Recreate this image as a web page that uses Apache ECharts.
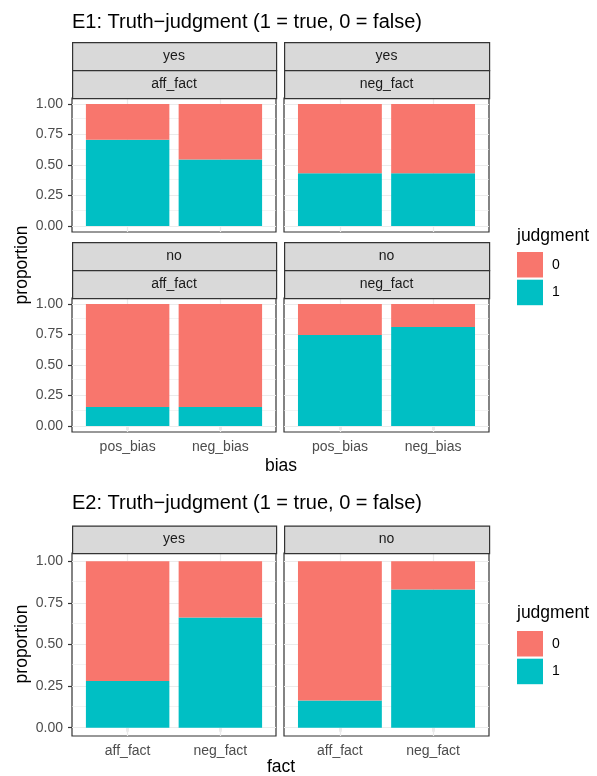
<!DOCTYPE html>
<html>
<head>
<meta charset="utf-8">
<script src="https://cdn.jsdelivr.net/npm/echarts@6/dist/echarts.min.js"></script>
<style>
  html, body { margin: 0; padding: 0; background: #fff; }
  #chart { width: 597px; height: 776px; }
</style>
</head>
<body>
<div id="chart"></div>
<script>
// ---- data ----
const e1Bias = ['pos_bias', 'neg_bias'];
const e1Verified = ['yes', 'yes', 'no', 'no'];
const e1Fact = ['aff_fact', 'neg_fact', 'aff_fact', 'neg_fact'];
// proportion of judgment = 1 (true) per panel, per bias level
const e1True = [[0.708, 0.545], [0.433, 0.433], [0.155, 0.155], [0.747, 0.812]];
// proportion of judgment = 0 (false)
const e1False = [[0.292, 0.455], [0.567, 0.567], [0.845, 0.845], [0.253, 0.188]];

const e2Fact = ['aff_fact', 'neg_fact'];
const e2Verified = ['yes', 'no'];
const e2True = [[0.281, 0.663], [0.163, 0.831]];
const e2False = [[0.719, 0.337], [0.837, 0.169]];

const yTicks = [0, 0.25, 0.5, 0.75, 1];
const yMinor = [0.125, 0.375, 0.625, 0.875];
const judgmentLevels = ['0', '1'];

// ---- styling ----
const FONT = '"Liberation Sans", Arial, Helvetica, sans-serif';
const COL0 = '#F8766D';
const COL1 = '#00BFC4';
const BORDER = '#333333';
const GRID = '#EBEBEB';
const STRIP = '#D9D9D9';

// panel rectangles [left, top, width, height]
const panels = [
  [72, 98, 204, 134], [284, 98, 205, 134],
  [72, 298, 204, 134], [284, 298, 205, 134],
  [72, 553, 204, 183], [284, 553, 205, 183]
];

const grids = [], xAxes = [], yAxes = [], series = [], graphics = [];

function gridLines(cats) {
  const d = [];
  yTicks.forEach(v => d.push({ yAxis: v, lineStyle: { color: GRID, width: 1.2, type: 'solid' } }));
  yMinor.forEach(v => d.push({ yAxis: v, lineStyle: { color: GRID, width: 0.6, type: 'solid' } }));
  cats.forEach((c, j) => d.push({ xAxis: j + 1, lineStyle: { color: GRID, width: 1.2, type: 'solid' } }));
  return { silent: true, symbol: 'none', z: 1, animation: false, label: { show: false }, data: d };
}

// rows are [proportion, position on the discrete axis]; proportion is listed first
// so that it is the dimension being stacked
function rows(cats, vals) {
  return cats.map((c, j) => [vals[j], j + 1]);
}

function addPanel(i, cats, ones, zeros, showX, showY) {
  const [l, t, w, h] = panels[i];
  grids.push({ left: l, top: t, width: w, height: h, show: true, backgroundColor: '#fff',
               borderColor: BORDER, borderWidth: 1.2, containLabel: false });
  xAxes.push({
    type: 'value', gridIndex: i, min: 0.4, max: 2.6,
    axisLine: { show: false }, splitLine: { show: false },
    axisTick: { show: showX, length: 4, lineStyle: { color: BORDER, width: 1.2 }, customValues: [1, 2] },
    axisLabel: { show: showX, margin: 8, color: '#4D4D4D', fontFamily: FONT, fontSize: 14,
                 customValues: [1, 2], formatter: v => cats[Math.round(v) - 1] }
  });
  yAxes.push({
    type: 'value', gridIndex: i, min: -0.05, max: 1.05,
    axisLine: { show: false }, splitLine: { show: false },
    axisTick: { show: showY, length: 4, lineStyle: { color: BORDER, width: 1.2 }, customValues: yTicks },
    axisLabel: { show: showY, margin: 9, color: '#4D4D4D', fontFamily: FONT, fontSize: 14,
                 customValues: yTicks, formatter: v => v.toFixed(2) }
  });
  series.push({
    name: '1', type: 'bar', xAxisIndex: i, yAxisIndex: i, stack: 's' + i, barWidth: '90%',
    itemStyle: { color: COL1 }, z: 3,
    encode: { x: 1, y: 0 },
    data: rows(cats, ones),
    markLine: gridLines(cats)
  });
  series.push({
    name: '0', type: 'bar', xAxisIndex: i, yAxisIndex: i, stack: 's' + i, barWidth: '90%',
    itemStyle: { color: COL0 }, z: 3,
    encode: { x: 1, y: 0 },
    data: rows(cats, zeros)
  });
}

function strip(l, t, w, h, text) {
  graphics.push({
    type: 'rect', left: l, top: t, z: 10,
    shape: { width: w, height: h },
    style: { fill: STRIP, stroke: BORDER, lineWidth: 1.2 }
  });
  graphics.push({
    type: 'text', x: l + w / 2, y: t + h / 2, z: 11,
    style: { text: text, fill: '#1A1A1A', font: '14px ' + FONT, textAlign: 'center', textVerticalAlign: 'middle' }
  });
}

function label(x, y, text, size, rotate) {
  graphics.push({
    type: 'text', x: x, y: y, rotation: rotate ? Math.PI / 2 : 0, z: 11,
    style: { text: text, fill: '#000', font: size + 'px ' + FONT, textAlign: 'center', textVerticalAlign: 'middle' }
  });
}

// E1: 2x2 facets, two strip rows each
for (let i = 0; i < 4; i++) {
  addPanel(i, e1Bias, e1True[i], e1False[i], i >= 2, i % 2 === 0);
  const [l, t, w] = panels[i];
  strip(l, t - 56, w, 28, e1Verified[i]);
  strip(l, t - 28, w, 28, e1Fact[i]);
}
// E2: 1x2 facets
for (let k = 0; k < 2; k++) {
  const i = 4 + k;
  addPanel(i, e2Fact, e2True[k], e2False[k], true, k === 0);
  const [l, t, w] = panels[i];
  strip(l, t - 27.5, w, 27.5, e2Verified[k]);
}

// axis titles
label(22, 265, 'proportion', 17.5, true);
label(281, 466, 'bias', 17.5, false);
label(22, 644, 'proportion', 17.5, true);
label(281, 767, 'fact', 17.5, false);

// legend titles
graphics.push({ type: 'text', x: 517, y: 236, z: 11,
  style: { text: 'judgment', fill: '#000', font: '17.5px ' + FONT, textAlign: 'left', textVerticalAlign: 'middle' } });
graphics.push({ type: 'text', x: 517, y: 613, z: 11,
  style: { text: 'judgment', fill: '#000', font: '17.5px ' + FONT, textAlign: 'left', textVerticalAlign: 'middle' } });

const legendBase = {
  orient: 'vertical', left: 517, itemWidth: 26, itemHeight: 25.5, itemGap: 2.2, padding: 0,
  icon: 'rect', selectedMode: false, data: judgmentLevels,
  textStyle: { color: '#000', fontFamily: FONT, fontSize: 14, padding: [0, 0, 0, 4] }
};

const chart = echarts.init(document.getElementById('chart'), null, { renderer: 'canvas' });
chart.setOption({
  animation: false,
  backgroundColor: '#fff',
  title: [
    { text: 'E1: Truth\u2212judgment (1 = true, 0 = false)', left: 72, top: 12, padding: 0,
      textStyle: { fontFamily: FONT, fontSize: 20, fontWeight: 'normal', color: '#000' } },
    { text: 'E2: Truth\u2212judgment (1 = true, 0 = false)', left: 72, top: 493, padding: 0,
      textStyle: { fontFamily: FONT, fontSize: 20, fontWeight: 'normal', color: '#000' } }
  ],
  legend: [
    Object.assign({}, legendBase, { top: 252 }),
    Object.assign({}, legendBase, { top: 631 })
  ],
  grid: grids,
  xAxis: xAxes,
  yAxis: yAxes,
  series: series,
  graphic: graphics
});
</script>
</body>
</html>
